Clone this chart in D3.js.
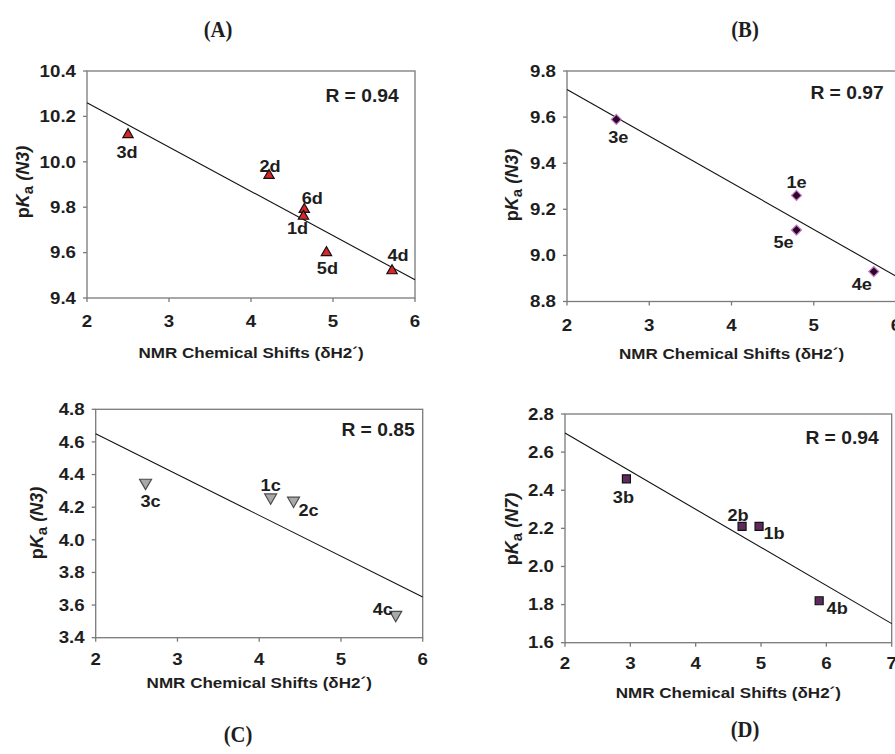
<!DOCTYPE html>
<meta charset="utf-8">
<html>
<head>
<script src="https://d3js.org/d3.v7.min.js"></script>
<style>
  body { margin: 0; background: #fff; }
  text { font-family: "Liberation Sans", Arial, sans-serif; font-weight: bold; fill: #1e1e1e; }
</style>
</head>
<body>
<svg id="chart" width="895" height="754"></svg>
</body>
</html>
<script>

// ---- data ----
// (A) pKa(N3) vs dH2'
var labelsA = ["3d", "2d", "6d", "1d", "5d", "4d"];
var shiftA  = [2.50, 4.22, 4.65, 4.64, 4.92, 5.72];
var pkaA    = [10.12, 9.94, 9.79, 9.76, 9.60, 9.52];
var fitA    = [10.26, 9.48];   // fit line value at x = 2 and x = 6

// (B)
var labelsB = ["3e", "1e", "5e", "4e"];
var shiftB  = [2.60, 4.79, 4.79, 5.73];
var pkaB    = [9.59, 9.26, 9.11, 8.93];
var fitB    = [9.72, 8.91];

// (C)
var labelsC = ["3c", "1c", "2c", "4c"];
var shiftC  = [2.61, 4.14, 4.42, 5.67];
var pkaC    = [4.35, 4.26, 4.24, 3.54];
var fitC    = [4.65, 3.65];

// (D) pKa(N7)
var labelsD = ["3b", "2b", "1b", "4b"];
var shiftD  = [2.94, 4.71, 4.97, 5.89];
var pkaD    = [2.46, 2.21, 2.21, 1.82];
var fitD    = [2.70, 1.70];     // at x = 2 and x = 7

var rValues = ["0.94", "0.97", "0.85", "0.94"];
var panelNames = ["(A)", "(B)", "(C)", "(D)"];
var xTitle = "NMR Chemical Shifts (\u03B4H2\u00B4)";

var svg = d3.select("#chart");

// horizontally stretched text, like the scanned figure
function stext(g, x, y, str, size, anchor, sx) {
  return g.append("text")
    .attr("transform", "translate(" + x + "," + y + ") scale(" + (sx || 1.1) + ",1)")
    .attr("text-anchor", anchor || "middle")
    .attr("dominant-baseline", "central")
    .style("font-size", size + "px")
    .text(str);
}

var panels = [
  { box: [87, 415, 71, 298], xd: [2, 6], yd: [9.4, 10.4], labels: labelsA, xs: shiftA, ys: pkaA, fit: fitA,
    sym: "up", fill: "#d9262b", stroke: "#111", size: 46, site: "N3",
    off: [[-1, 18], [1, -9], [8, -11], [-6, 12], [1, 16], [6, -15]],
    r: [362, 96], tickY: 321, titleY: 352, ytitle: [23, 182], name: [218, 30] },
  { box: [567, 896, 71, 301.5], xd: [2, 6], yd: [8.8, 9.8], labels: labelsB, xs: shiftB, ys: pkaB, fit: fitB,
    sym: "diamond", fill: "#2a0628", stroke: "#c77ac4", size: 50, site: "N3",
    off: [[2, 18], [0, -13], [-13, 12], [-12, 13]],
    r: [847, 93], tickY: 325, titleY: 353, ytitle: [512, 185], name: [745, 30] },
  { box: [95.7, 422.7, 409.3, 637.7], xd: [2, 6], yd: [3.4, 4.8], labels: labelsC, xs: shiftC, ys: pkaC, fit: fitC,
    sym: "down", fill: "#a9a9a9", stroke: "#4a4a4a", size: 62, site: "N3",
    off: [[5, 19], [0, -12], [15, 10], [-13, -6]],
    r: [378, 430], tickY: 659, titleY: 682, ytitle: [37, 523], name: [238, 735] },
  { box: [565, 891.7, 414, 642.7], xd: [2, 7], yd: [1.6, 2.8], labels: labelsD, xs: shiftD, ys: pkaD, fit: fitD,
    sym: "square", fill: "#5e2a5e", stroke: "#111", size: 64, site: "N7",
    off: [[-3, 18], [-4, -11], [15, 7], [18, 8]],
    r: [842, 438], tickY: 663, titleY: 692, ytitle: [512, 529], name: [745, 730] }
];

panels.forEach(function(p, i) {
  var g = svg.append("g");
  var x = d3.scaleLinear().domain(p.xd).range([p.box[0], p.box[1]]);
  var y = d3.scaleLinear().domain(p.yd).range([p.box[3], p.box[2]]);

  // frame
  g.append("rect")
    .attr("x", p.box[0]).attr("y", p.box[2])
    .attr("width", p.box[1] - p.box[0]).attr("height", p.box[3] - p.box[2])
    .attr("fill", "none").attr("stroke", "#7a7a7a").attr("stroke-width", 1.3);

  // ticks
  var xt = d3.range(p.xd[0], p.xd[1] + 0.001, 1);
  var yt = d3.range(0, Math.round((p.yd[1] - p.yd[0]) / 0.2) + 1).map(function(k) { return p.yd[0] + k * 0.2; });

  g.selectAll(".xt").data(xt).enter().append("line")
    .attr("x1", function(d) { return x(d); }).attr("x2", function(d) { return x(d); })
    .attr("y1", p.box[3]).attr("y2", p.box[3] + 4)
    .attr("stroke", "#7a7a7a").attr("stroke-width", 1.3);
  g.selectAll(".yt").data(yt).enter().append("line")
    .attr("x1", p.box[0] - 4).attr("x2", p.box[0])
    .attr("y1", function(d) { return y(d); }).attr("y2", function(d) { return y(d); })
    .attr("stroke", "#7a7a7a").attr("stroke-width", 1.3);

  xt.forEach(function(d) { stext(g, x(d), p.tickY, d3.format("d")(d), 17); });
  yt.forEach(function(d) { stext(g, p.box[0] - 11, y(d), d3.format(".1f")(d), 17, "end"); });

  // regression line
  g.append("line")
    .attr("x1", x(p.xd[0])).attr("y1", y(p.fit[0]))
    .attr("x2", x(p.xd[1])).attr("y2", y(p.fit[1]))
    .attr("stroke", "#111").attr("stroke-width", 1.1);

  // markers
  var shape = { up: d3.symbolTriangle, down: d3.symbolTriangle, diamond: d3.symbolSquare, square: d3.symbolSquare }[p.sym];
  var rot = { up: 0, down: 180, diamond: 45, square: 0 }[p.sym];
  g.selectAll(".pt").data(p.xs).enter().append("path")
    .attr("d", d3.symbol().type(shape).size(p.size))
    .attr("transform", function(d, k) { return "translate(" + x(d) + "," + y(p.ys[k]) + ") rotate(" + rot + ")"; })
    .attr("fill", p.fill).attr("stroke", p.stroke).attr("stroke-width", 1.2);

  // point labels
  p.labels.forEach(function(lab, k) {
    stext(g, x(p.xs[k]) + p.off[k][0], y(p.ys[k]) + p.off[k][1], lab, 16.5);
  });

  // R value
  stext(g, p.r[0], p.r[1], "R = " + rValues[i], 17.5);

  // axis titles
  stext(g, (p.box[0] + p.box[1]) / 2, p.titleY, xTitle, 15.5);

  var yl = g.append("text")
    .attr("transform", "translate(" + p.ytitle[0] + "," + p.ytitle[1] + ") rotate(-90)")
    .attr("text-anchor", "middle")
    .attr("dominant-baseline", "central")
    .style("font-size", "18px");
  yl.append("tspan").text("p");
  yl.append("tspan").style("font-style", "italic").text("K");
  yl.append("tspan").attr("dy", 4).style("font-size", "15px").text("a");
  yl.append("tspan").attr("dy", -4).style("font-style", "italic").text(" (" + p.site + ")");

  // panel name
  svg.append("text")
    .attr("transform", "translate(" + p.name[0] + "," + p.name[1] + ") scale(0.9,1)")
    .attr("text-anchor", "middle")
    .attr("dominant-baseline", "central")
    .style("font-family", "'Liberation Serif', 'Times New Roman', serif")
    .style("font-size", "23px")
    .text(panelNames[i]);
});

</script>
